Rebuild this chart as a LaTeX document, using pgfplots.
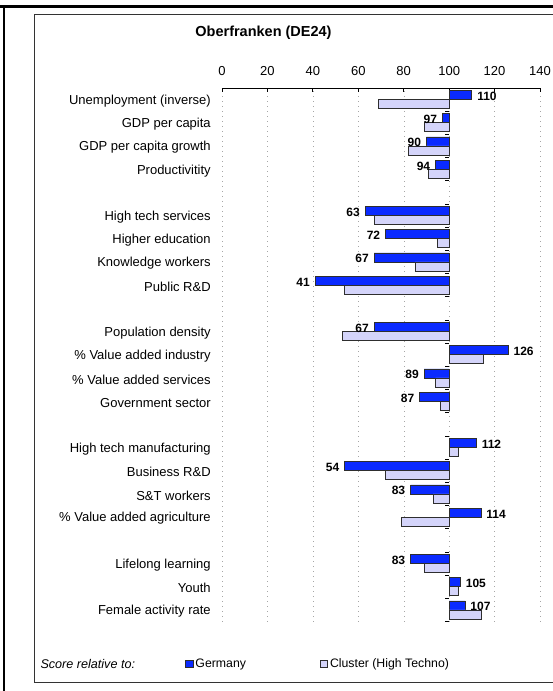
\documentclass[border=0pt]{standalone}
\usepackage{pgfplots}
\pgfplotsset{compat=1.18}
\usepackage{pgfplotstable}
\usepackage{fontspec}
\setmainfont{Liberation Sans}

\definecolor{gblue}{HTML}{0A2AFF}
\definecolor{clav}{HTML}{D4D4FA}
\definecolor{edge}{HTML}{2E2E2E}

\tikzset{vlabel/.style={font=\fontsize{12}{14}\selectfont\bfseries, inner sep=0pt, text=black, yshift=3.2pt}}

% slot: row from the top (empty slots separate the groups)
% g: score relative to Germany, c: score relative to the cluster
\pgfplotstableread{
slot g   c
0    110 69
1    97  89
2    90  82
3    94  91
5    63  67
6    72  95
7    67  85
8    41  54
10   67  53
11   126 115
12   89  94
13   87  96
15   112 104
16   54  72
17   83  93
18   114 79
20   83  89
21   105 104
22   107 114
}\scores

\begin{document}
\begin{tikzpicture}
\path[use as bounding box] (0pt,0pt) rectangle (553pt,-691pt);
% frame
\draw[line width=2.3pt] (0pt,-6.5pt) -- (553pt,-6.5pt);
\draw[line width=2pt] (3.7pt,-6.5pt) -- (3.7pt,-691pt);
\draw[line width=1pt, black!80] (553pt,-14pt) -- (34pt,-14pt) -- (34pt,-682pt) -- (553pt,-682pt);

\node[font=\fontsize{14.5}{17}\selectfont\bfseries] at (263.5pt,-33pt) {Oberfranken (DE24)};
\node[anchor=west, font=\fontsize{12.6}{15}\selectfont\itshape] at (37pt,-664pt) {Score relative to:};

\begin{axis}[
  at={(222pt,-88pt)}, anchor=north west,
  scale only axis, width=318pt, height=533.5pt,
  xmin=-100, xmax=40, ymin=-22.5, ymax=0.5,
  axis x line=top, axis y line=left,
  x axis line style={-, line width=0.8pt},
  y axis line style={draw=none},
  xtick={-100,-80,-60,-40,-20,0,20,40},
  xticklabels={0,20,40,60,80,100,120,140},
  xtick align=inside, major tick length=3.5pt,
  xtick style={line width=0.8pt, black},
  xmajorgrids, major x grid style={gray!70, dash pattern=on 1pt off 4pt},
  extra x ticks={0}, extra x tick labels={},
  extra x tick style={major grid style={solid, black, line width=1pt}},
  ytick={0,-1,-2,-3,-5,-6,-7,-8,-10,-11,-12,-13,-15,-16,-17,-18,-20,-21,-22},
  yticklabels={Unemployment (inverse),GDP per capita,GDP per capita growth,Productivitity,
    High tech services,Higher education,Knowledge workers,Public R\&D,
    Population density,\% Value added industry,\% Value added services,Government sector,
    High tech manufacturing,Business R\&D,S\&T workers,\% Value added agriculture,
    Lifelong learning,Youth,Female activity rate},
  ytick style={draw=none},
  tick label style={font=\fontsize{13}{15}\selectfont},
  xticklabel style={yshift=9pt},
  yticklabel style={xshift=-6pt, yshift=-1.5pt},
  /pgf/number format/assume math mode=true,
  clip=false,
  legend image code/.code={\draw[#1] (-4pt,-3.6pt) rectangle (3.3pt,3.6pt);},
  legend style={at={(axis description cs:-0.125,-0.0797)}, anchor=west, draw=none, fill=none,
    font=\fontsize{12.3}{14}\selectfont, legend columns=2,
    /tikz/every even column/.append style={column sep=72pt}},
  legend cell align=left,
]
% Germany, at or above 100: value written to the right of the bar
\addplot[xbar, forget plot, bar width=9pt, bar shift=4.5pt, fill=gblue, draw=edge, line width=0.8pt,
  restrict x to domain=0:100,
  point meta=\thisrow{g}, nodes near coords,
  every node near coord/.append style={vlabel, anchor=west, xshift=5pt}]
  table[x expr=\thisrow{g}-100, y expr=-\thisrow{slot}] {\scores};
% Germany, below 100: value written to the left of the bar
\addplot[xbar, forget plot, bar width=9pt, bar shift=4.5pt, fill=gblue, draw=edge, line width=0.8pt,
  restrict x to domain=-100:-0.001,
  point meta=\thisrow{g}, nodes near coords,
  every node near coord/.append style={vlabel, anchor=east, xshift=-5pt}]
  table[x expr=\thisrow{g}-100, y expr=-\thisrow{slot}] {\scores};
% Cluster
\addplot[xbar, forget plot, bar width=9pt, bar shift=-4.5pt, fill=clav, draw=edge, line width=0.8pt]
  table[x expr=\thisrow{c}-100, y expr=-\thisrow{slot}] {\scores};

% small marks on the 100 line between rows
\pgfplotsinvokeforeach{0,...,23}{\draw[line width=0.8pt] (axis cs:0,{0.5-#1}) -- ++(-4pt,0pt);}

\addlegendimage{fill=gblue, draw=edge, line width=0.7pt}
\addlegendentry{Germany}
\addlegendimage{fill=clav, draw=edge, line width=0.7pt}
\addlegendentry{Cluster (High Techno)}
\end{axis}
\end{tikzpicture}
\end{document}
